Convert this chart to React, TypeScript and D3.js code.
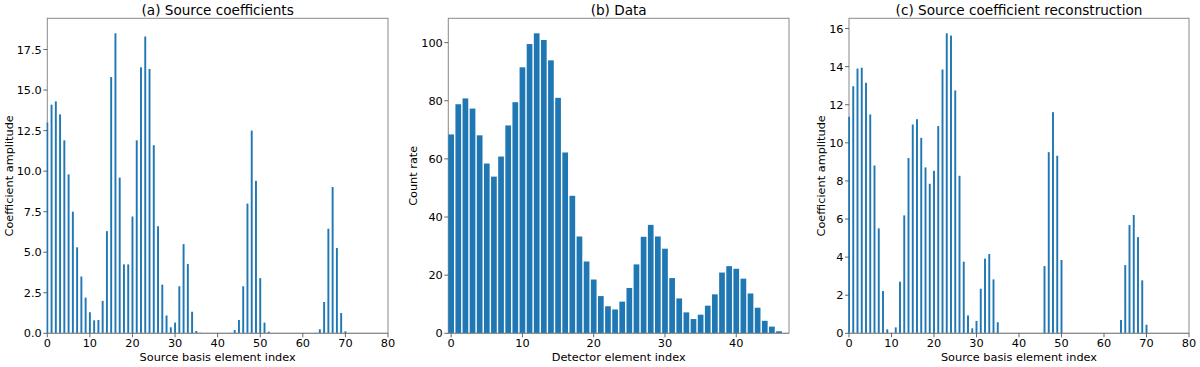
import React from "react";
import * as d3 from "d3";

// ---- Data ----
const sourceCoefficients: number[] = [
  13.0, 14.1, 14.3, 13.5, 11.9, 9.8, 7.5, 5.3, 3.5, 2.2,
  1.3, 0.8, 0.82, 2.0, 6.3, 15.8, 18.5, 9.6, 4.25, 4.25,
  7.2, 11.9, 16.4, 18.3, 16.3, 11.6, 6.6, 3.0, 1.1, 0.37,
  0.66, 2.9, 5.5, 4.27, 1.33, 0.14, 0.03, 0, 0, 0,
  0, 0, 0.01, 0.03, 0.2, 0.82, 2.9, 8.0, 12.5, 9.4,
  3.4, 0.66, 0.1, 0.02, 0, 0, 0, 0, 0, 0,
  0, 0, 0, 0.03, 0.25, 1.93, 6.45, 9.02, 5.26, 1.25,
  0.12, 0, 0, 0, 0, 0, 0, 0, 0, 0,
];

const detectorCounts: number[] = [
  68.4, 78.8, 80.8, 77.3, 68.1, 58.4, 53.9, 60.8, 71.5, 79.5,
  91.5, 99.5, 103.2, 100.9, 93.9, 81.0, 62.2, 47.3, 33.3, 24.7,
  18.5, 12.8, 9.3, 8.2, 10.9, 15.6, 23.7, 33.2, 37.3, 33.3,
  29.1, 19.0, 12.0, 7.2, 4.9, 6.4, 9.5, 13.4, 20.9, 23.1,
  22.2, 18.8, 13.7, 8.8, 4.3, 2.3, 0.7,
];

const reconstructedCoefficients: number[] = [
  11.37, 12.97, 13.9, 13.94, 13.15, 11.49, 8.81, 5.51, 2.22, 0.21,
  0.02, 0.31, 2.71, 6.19, 9.2, 10.96, 11.24, 10.26, 8.71, 7.85,
  8.53, 10.88, 13.85, 15.75, 15.63, 12.75, 8.27, 3.76, 0.94, 0.26,
  0.65, 2.34, 3.92, 4.16, 2.83, 0.58, 0, 0, 0, 0,
  0, 0, 0, 0, 0, 0, 3.53, 9.51, 11.61, 9.32,
  3.85, 0, 0, 0, 0, 0, 0, 0, 0, 0,
  0, 0, 0, 0, 0.7, 3.58, 5.68, 6.21, 5.05, 2.78,
  0.45, 0, 0, 0, 0, 0, 0, 0, 0, 0,
];

const titles = ["(a) Source coefficients", "(b) Data", "(c) Source coefficient reconstruction"];
const xLabels = ["Source basis element index", "Detector element index", "Source basis element index"];
const yLabels = ["Coefficient amplitude", "Count rate", "Coefficient amplitude"];
const xTicksSource = [0, 10, 20, 30, 40, 50, 60, 70, 80];
const xTicksDetector = [0, 10, 20, 30, 40];
const yTicksA = [0, 2.5, 5, 7.5, 10, 12.5, 15, 17.5];
const yTicksB = [0, 20, 40, 60, 80, 100];
const yTicksC = [0, 2, 4, 6, 8, 10, 12, 14, 16];

const BLUE = "#1f77b4";
const FONT = "DejaVu Sans, sans-serif";

type PanelProps = {
  id: string;
  left: number;
  right: number;
  top: number;
  bottom: number;
  values: number[];
  xDomain: [number, number];
  yDomain: [number, number];
  xTicks: number[];
  yTicks: number[];
  yFormat: (v: number) => string;
  barWidth: number;
  title: string;
  xLabel: string;
  yLabel: string;
  yLabelX: number;
};

function Panel(p: PanelProps) {
  const x = d3.scaleLinear().domain(p.xDomain).range([p.left, p.right]);
  const y = d3.scaleLinear().domain(p.yDomain).range([p.bottom, p.top]);
  const cx = (p.left + p.right) / 2;
  const bw = x(p.barWidth) - x(0);
  return (
    <g>
      <defs>
        <clipPath id={p.id}>
          <rect x={p.left - 0.8} y={p.top} width={p.right - p.left + 0.8} height={p.bottom - p.top} />
        </clipPath>
      </defs>
      <rect
        x={p.left}
        y={p.top}
        width={p.right - p.left}
        height={p.bottom - p.top}
        fill="none"
        stroke="#8a8a8a"
        strokeWidth={1}
      />
      <g clipPath={`url(#${p.id})`}>
        {p.values.map((v, i) =>
          v > 0 ? (
            <rect
              key={i}
              x={x(i) - bw / 2}
              y={y(v)}
              width={bw}
              height={y(0) - y(v)}
              fill={BLUE}
            />
          ) : null
        )}
      </g>
      <line x1={p.left} x2={p.right} y1={p.bottom} y2={p.bottom} stroke="#8a8a8a" strokeWidth={1} />
      {p.xTicks.map((t) => (
        <g key={"x" + t}>
          <line x1={x(t)} x2={x(t)} y1={p.bottom} y2={p.bottom + 4} stroke="#555" strokeWidth={0.9} />
          <text x={x(t)} y={p.bottom + 14} textAnchor="middle" fontSize={11.3} fontFamily={FONT} fill="#000">
            {t}
          </text>
        </g>
      ))}
      {p.yTicks.map((t) => (
        <g key={"y" + t}>
          <line x1={p.left - 4} x2={p.left} y1={y(t)} y2={y(t)} stroke="#555" strokeWidth={0.9} />
          <text
            x={p.left - 5.5}
            y={y(t)}
            dy="0.36em"
            textAnchor="end"
            fontSize={11.3}
            fontFamily={FONT}
            fill="#000"
          >
            {p.yFormat(t)}
          </text>
        </g>
      ))}
      <text x={cx} y={14.5} textAnchor="middle" fontSize={13.6} fontFamily={FONT} fill="#000">
        {p.title}
      </text>
      <text x={cx} y={361} textAnchor="middle" fontSize={11.3} fontFamily={FONT} fill="#000">
        {p.xLabel}
      </text>
      <text
        transform={`translate(${p.yLabelX},${(p.top + p.bottom) / 2}) rotate(-90)`}
        textAnchor="middle"
        fontSize={11.3}
        fontFamily={FONT}
        fill="#000"
      >
        {p.yLabel}
      </text>
    </g>
  );
}

export default function App() {
  const top = 18.3;
  const bottom = 333.3;
  return (
    <svg
      width={1200}
      height={367}
      style={{ position: "absolute", left: 0, top: 0, background: "#fff" }}
    >
      <rect width={1200} height={367} fill="#fff" />
      <Panel
        id="clipA"
        left={47.3}
        right={388}
        top={top}
        bottom={bottom}
        values={sourceCoefficients}
        xDomain={[0, 80]}
        yDomain={[0, d3.max(sourceCoefficients)! * 1.05]}
        xTicks={xTicksSource}
        yTicks={yTicksA}
        yFormat={(v) => v.toFixed(1)}
        barWidth={0.45}
        title={titles[0]}
        xLabel={xLabels[0]}
        yLabel={yLabels[0]}
        yLabelX={13}
      />
      <Panel
        id="clipB"
        left={448.3}
        right={789}
        top={top}
        bottom={bottom}
        values={detectorCounts}
        xDomain={[-0.4, 47.4]}
        yDomain={[0, d3.max(detectorCounts)! * 1.05]}
        xTicks={xTicksDetector}
        yTicks={yTicksB}
        yFormat={(v) => String(v)}
        barWidth={0.8}
        title={titles[1]}
        xLabel={xLabels[1]}
        yLabel={yLabels[1]}
        yLabelX={417}
      />
      <Panel
        id="clipC"
        left={849}
        right={1189}
        top={top}
        bottom={bottom}
        values={reconstructedCoefficients}
        xDomain={[0, 80]}
        yDomain={[0, d3.max(reconstructedCoefficients)! * 1.05]}
        xTicks={xTicksSource}
        yTicks={yTicksC}
        yFormat={(v) => String(v)}
        barWidth={0.45}
        title={titles[2]}
        xLabel={xLabels[2]}
        yLabel={yLabels[2]}
        yLabelX={824.5}
      />
    </svg>
  );
}
